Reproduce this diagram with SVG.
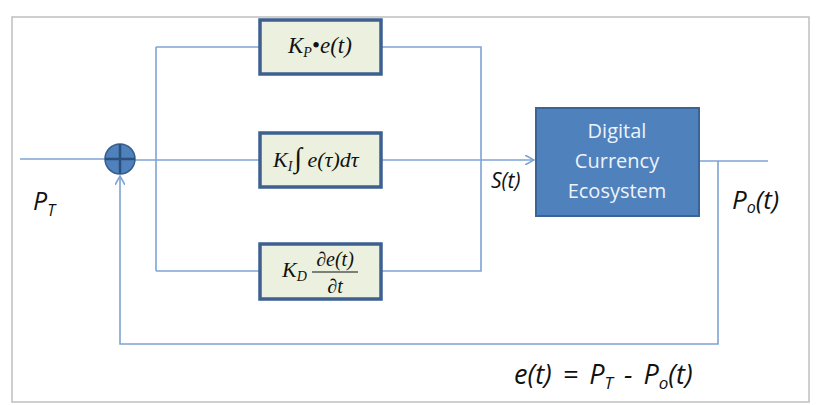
<svg xmlns="http://www.w3.org/2000/svg" width="820" height="405" viewBox="0 0 820 405">
<style>
.ln{fill:none;stroke:#7ea3d3;stroke-width:1.6}
.blk{fill:#ebf1de;stroke:#3d6090;stroke-width:3.5}
.m{font-family:"Liberation Serif",serif;font-style:italic;fill:#111}
.c{font-family:"Open Sans","Liberation Sans",sans-serif;font-style:italic;fill:#111}
.w{font-family:"Open Sans","Liberation Sans",sans-serif;fill:#eef3fa;font-size:20px;text-anchor:middle}
</style>
<defs>
<marker id="arr" viewBox="0 0 10 10" refX="9" refY="5" markerWidth="10" markerHeight="10" markerUnits="userSpaceOnUse" orient="auto">
<path d="M0,0 L9,5 L0,10" fill="none" stroke="#7ea3d3" stroke-width="1.6"/>
</marker>
</defs>
<rect x="12" y="17" width="797" height="385" fill="#fff" stroke="#bfbfbf" stroke-width="1.5"/>
<g id="connectors">
<path class="ln" d="M20,159 H105"/>
<path class="ln" d="M135,160 H260"/>
<path class="ln" d="M156,47 V271"/>
<path class="ln" d="M156,47 H259"/>
<path class="ln" d="M156,271 H259"/>
<path class="ln" d="M382,47 H481 V271 H382"/>
<path class="ln" d="M382,160 H534" marker-end="url(#arr)"/>
<path class="ln" d="M699,161 H768"/>
<path class="ln" d="M718,161 V344 H120 V176" marker-end="url(#arr)"/>
</g>
<g id="sum">
<circle cx="120" cy="159" r="15" fill="#4f81bd" stroke="#385d8a" stroke-width="1.5"/>
<path d="M105,159 H135 M120,144 V174" stroke="#2c4f7c" stroke-width="2.5"/>
</g>
<g id="kp">
<rect class="blk" x="260" y="20" width="121" height="54"/>
<text class="m" x="288" y="53" font-size="23">K<tspan font-size="14" dy="4">P</tspan><tspan dy="-4" font-style="normal">•</tspan>e(t)</text>
</g>
<g id="ki">
<rect class="blk" x="260" y="133" width="121" height="54"/>
<text class="m" x="273" y="167" font-size="22">K<tspan font-size="14" dy="4">I</tspan><tspan dy="-4" dx="2" font-style="normal" font-size="28">∫</tspan> e(τ)dτ</text>
</g>
<g id="kd">
<rect class="blk" x="260" y="244" width="121" height="55"/>
<text class="m" x="282" y="277" font-size="22">K<tspan font-size="14" dy="4">D</tspan></text>
<text class="m" x="335" y="266" font-size="20" text-anchor="middle">∂e(t)</text>
<line x1="312" y1="272" x2="358" y2="272" stroke="#111" stroke-width="1.2"/>
<text class="m" x="335" y="293" font-size="20" text-anchor="middle">∂t</text>
</g>
<g id="ecosystem">
<rect x="536" y="108" width="163" height="108" fill="#4f81bd" stroke="#3a6396" stroke-width="2"/>
<text class="w" x="617" y="138">Digital</text>
<text class="w" x="617" y="168">Currency</text>
<text class="w" x="617" y="198">Ecosystem</text>
</g>
<g id="labels">
<text class="c" x="33" y="210" font-size="25">P<tspan font-size="16" dy="6">T</tspan></text>
<text class="c" x="491" y="188" font-size="21">S(t)</text>
<text class="c" x="732" y="209" font-size="26">P<tspan font-size="16" dy="4">o</tspan><tspan dy="-4">(t)</tspan></text>
<text class="c" x="514" y="384" font-size="27" word-spacing="4">e(t) = P<tspan font-size="17" dy="5">T</tspan><tspan dy="-5"> - P</tspan><tspan font-size="17" dy="5">o</tspan><tspan dy="-5">(t)</tspan></text>
</g>
</svg>
